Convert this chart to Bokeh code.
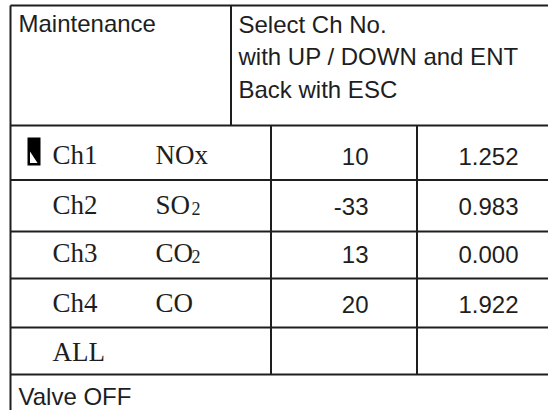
from bokeh.plotting import figure
from bokeh.models import Range1d, ColumnDataSource
from bokeh.core.properties import value
from bokeh.embed import file_html
from bokeh.resources import INLINE

# ---- data ----
title_left = "Maintenance"
title_right = ["Select Ch No.", "with UP / DOWN and ENT", "Back with ESC"]
channels = ["Ch1", "Ch2", "Ch3", "Ch4", "ALL"]
gases = ["NOx", "SO", "CO", "CO", ""]
gas_subscripts = ["", "2", "2", "", ""]
raw_values = [10, -33, 13, 20]
conc_values = [1.252, 0.983, 0.000, 1.922]
footer = "Valve OFF"
selected = 0

# ---- layout (pixel grid of the screen) ----
W, H = 548, 410
p = figure(width=W, height=H, output_backend="svg", toolbar_location=None,
           x_range=Range1d(0, W), y_range=Range1d(H, 0),
           min_border=0, x_axis_location=None, y_axis_location=None,
           outline_line_color=None, background_fill_color="white")
p.xgrid.visible = False
p.ygrid.visible = False

LC = "#1e1e1e"
TC = "#1e1e1e"
SANS = "Liberation Sans"
SERIF = "Liberation Serif"
SANS_SHIFT = 9
SERIF_SHIFT = 11

left, right, top = 10, 600, 5
header_split = 230.5
header_bottom = 125
row_lines = [179.5, 231, 278, 327, 374]
col1, col2 = 270.5, 416.5
baselines = [165, 215, 263, 313, 362]
footer_base = 405

x0 = [left, left, header_split, left] + [left] * len(row_lines) + [col1, col2]
y0 = [top, top, top, header_bottom] + row_lines + [header_bottom, header_bottom]
x1 = [right, left, header_split, right] + [right] * len(row_lines) + [col1, col2]
y1 = [top, 440, header_bottom, header_bottom] + row_lines + [row_lines[-1], row_lines[-1]]
p.segment(x0=x0, y0=y0, x1=x1, y1=y1, line_color=LC, line_width=2)

sans_b = [b - SANS_SHIFT for b in baselines]
serif_b = [b - SERIF_SHIFT for b in baselines]

# header texts
p.text(x=[18], y=[32 - SANS_SHIFT], text=[title_left], text_font=value(SANS),
       text_font_size="24px", text_color=TC, text_baseline="alphabetic")
p.text(x=[238] * 3, y=[33 - SANS_SHIFT, 65 - SANS_SHIFT, 98 - SANS_SHIFT],
       text=title_right, text_font=value(SANS),
       text_font_size="24px", text_color=TC, text_baseline="alphabetic")

# channel rows
src = ColumnDataSource(dict(x=[52] * len(channels), y=serif_b, t=channels))
p.text(x="x", y="y", text="t", source=src, text_font=value(SERIF),
       text_font_size="27px", text_color=TC, text_baseline="alphabetic")
p.text(x=[155] * len(gases), y=serif_b, text=gases, text_font=value(SERIF),
       text_font_size="27px", text_color=TC, text_baseline="alphabetic")
p.text(x=[191] * len(gases), y=[b - 7 for b in baselines], text=gas_subscripts,
       text_font=value(SERIF), text_font_size="18px", text_color=TC,
       text_baseline="alphabetic")

n = len(raw_values)
p.text(x=[368] * n, y=sans_b[:n], text=[str(v) for v in raw_values],
       text_font=value(SANS), text_font_size="24px", text_color=TC,
       text_baseline="alphabetic", text_align="right")
p.text(x=[518] * n, y=sans_b[:n], text=[f"{v:.3f}" for v in conc_values],
       text_font=value(SANS), text_font_size="24px", text_color=TC,
       text_baseline="alphabetic", text_align="right")

# footer
p.text(x=[18], y=[footer_base - SANS_SHIFT], text=[footer], text_font=value(SANS),
       text_font_size="24px", text_color=TC, text_baseline="alphabetic")

# selection cursor
cy = baselines[selected]
p.quad(left=[27], right=[40], top=[cy - 28], bottom=[cy], fill_color="black", line_color=None)
p.patch(x=[29.5, 29.5, 37], y=[cy - 14, cy - 2.5, cy - 2.5], fill_color="white", line_color=None)

open("out.html", "w").write(file_html(p, INLINE))
